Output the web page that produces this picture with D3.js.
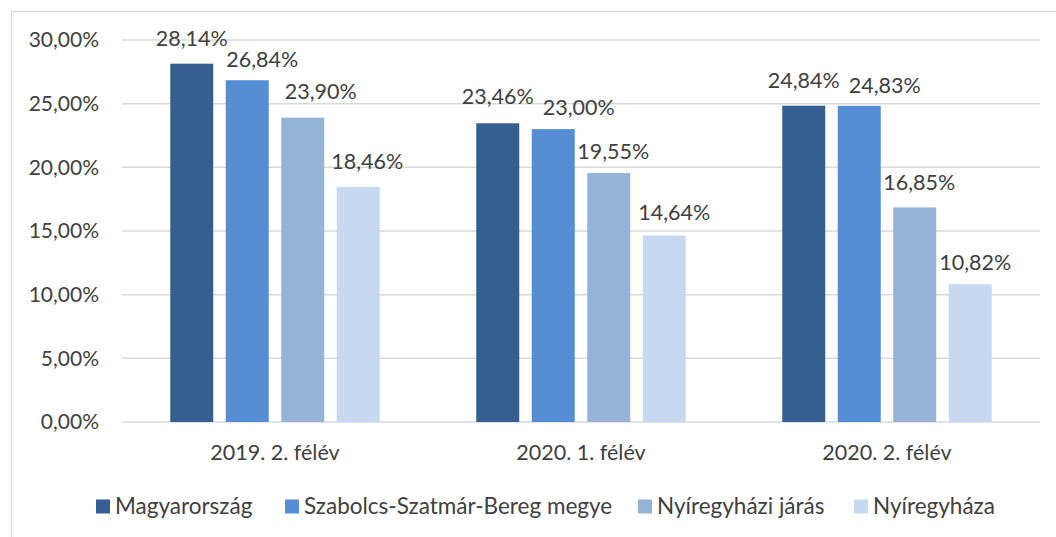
<!DOCTYPE html>
<html>
<head>
<meta charset="utf-8">
<script src="https://cdn.jsdelivr.net/npm/d3@7"></script>
<style>
  body { margin: 0; background: #fff; }
  text { font-family: Lato, "Open Sans", sans-serif; fill: #404040; }
</style>
</head>
<body>
<div id="chart"></div>
<script>
const categories = ['2019. 2. félév', '2020. 1. félév', '2020. 2. félév'];
const seriesNames = ['Magyarország', 'Szabolcs-Szatmár-Bereg megye', 'Nyíregyházi járás', 'Nyíregyháza'];
const magyarorszag = [28.14, 23.46, 24.84];
const szabolcs = [26.84, 23.00, 24.83];
const jaras = [23.90, 19.55, 16.85];
const nyiregyhaza = [18.46, 14.64, 10.82];
const yTicks = [0, 5, 10, 15, 20, 25, 30];
const colors = ['#355f91', '#558ed5', '#95b3d7', '#c6d9f1'];

const seriesValues = [magyarorszag, szabolcs, jaras, nyiregyhaza];

// label nudges (as placed in the original), per series and category
const labelDx = [[0, 0, 0], [15, 25.5, 25.5], [18, 4.5, 4.5], [9, 10, 5]];
const labelGap = [[18, 19, 18], [13, 14, 13], [19, 14, 17], [18, 16, 14]];

const totalWidth = 1056
const totalHeight = 537

const plotLeft = 122
const plotRight = 1040
const plotTop = 40
const plotBottom = 422

const fmt = v => v.toFixed(2).replace('.', ',') + '%';

const svg = d3.select('#chart')
    .append('svg')
    .attr('width', totalWidth)
    .attr('height', totalHeight);

// chart border
svg.append('rect')
    .attr('x', 11.5)
    .attr('y', 11.5)
    .attr('width', 1060)
    .attr('height', 540)
    .attr('fill', 'none')
    .attr('stroke', '#d9d9d9')
    .attr('stroke-width', 1.5);

const xScale = d3.scaleBand()
    .domain(categories)
    .range([plotLeft, plotRight]);

const yScale = d3.scaleLinear()
    .domain([0, 30])
    .range([plotBottom, plotTop]);

// gridlines
svg.append('g')
    .selectAll('line')
    .data(yTicks)
    .enter()
    .append('line')
    .attr('x1', plotLeft)
    .attr('x2', plotRight)
    .attr('y1', d => yScale(d))
    .attr('y2', d => yScale(d))
    .attr('stroke', '#d9d9d9')
    .attr('stroke-width', 1.5);

// y tick labels
svg.append('g')
    .selectAll('text')
    .data(yTicks)
    .enter()
    .append('text')
    .attr('x', 99)
    .attr('y', d => yScale(d))
    .attr('dy', '0.35em')
    .attr('text-anchor', 'end')
    .style('font-size', '21px')
    .text(d => fmt(d));

// bars
const pitch = 55.5;
const barWidth = 43;
const inner = d3.scaleBand()
    .domain(d3.range(seriesNames.length))
    .range([-pitch * 2, pitch * 2]);

const barData = [];
seriesValues.forEach((vals, s) => {
    vals.forEach((v, c) => barData.push({ s: s, ci: c, c: categories[c], v: v }));
});

const barCenter = d => xScale(d.c) + xScale.bandwidth() / 2 + inner(d.s) + pitch / 2;

const bars = svg.append('g');
bars.selectAll('rect')
    .data(barData)
    .enter()
    .append('rect')
    .attr('x', d => barCenter(d) - barWidth / 2)
    .attr('y', d => yScale(d.v))
    .attr('width', barWidth)
    .attr('height', d => yScale(0) - yScale(d.v))
    .attr('fill', d => colors[d.s]);

bars.selectAll('text')
    .data(barData)
    .enter()
    .append('text')
    .attr('x', d => barCenter(d) + labelDx[d.s][d.ci])
    .attr('y', d => yScale(d.v) - labelGap[d.s][d.ci])
    .attr('text-anchor', 'middle')
    .style('font-size', '21.5px')
    .text(d => fmt(d.v));

// category labels
svg.append('g')
    .selectAll('text')
    .data(categories)
    .enter()
    .append('text')
    .attr('x', d => xScale(d) + xScale.bandwidth() / 2)
    .attr('y', 460)
    .attr('text-anchor', 'middle')
    .style('font-size', '21.5px')
    .text(d => d);

// legend
const legendX = [96, 285, 638, 854];
const legend = svg.append('g')
    .selectAll('g')
    .data(seriesNames)
    .enter()
    .append('g')
    .attr('transform', (d, i) => `translate(${legendX[i]}, 506.5)`);

legend.append('rect')
    .attr('x', 0)
    .attr('y', -7)
    .attr('width', 14)
    .attr('height', 14)
    .attr('fill', (d, i) => colors[i]);

legend.append('text')
    .attr('x', 19)
    .attr('y', 0)
    .attr('dy', '0.35em')
    .style('font-size', '22.5px')
    .text(d => d);
</script>
</body>
</html>
